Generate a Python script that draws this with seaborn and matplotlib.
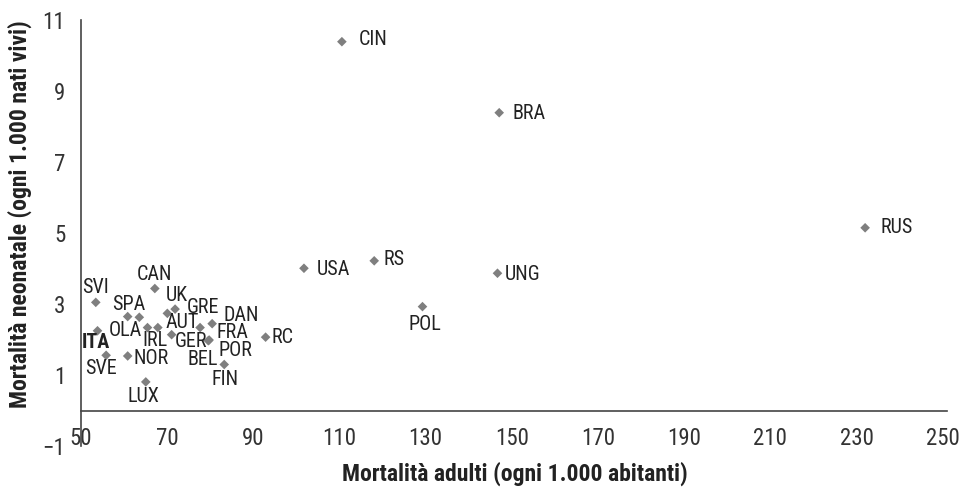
import pandas as pd
import seaborn as sns
import matplotlib.pyplot as plt

# Paesi (sigle) e valori
paesi = ['CIN', 'BRA', 'RUS', 'USA', 'RS', 'UNG', 'POL', 'RC',
         'SVI', 'CAN', 'SPA', 'OLA', 'UK', 'GRE', 'ITA', 'IRL', 'AUT',
         'GER', 'FRA', 'DAN', 'BEL', 'POR', 'FIN', 'SVE', 'NOR', 'LUX']
mort_adulti = [110.6, 147.1, 232.0, 101.8, 118.1, 146.7, 129.3, 92.9,
               53.5, 67.2, 60.9, 63.6, 70.1, 71.9, 53.9, 65.5, 67.9,
               71.1, 77.7, 80.5, 79.6, 79.8, 83.3, 55.9, 60.9, 65.1]
mort_neonatale = [10.39, 8.39, 5.15, 4.01, 4.22, 3.87, 2.93, 2.07,
                  3.05, 3.44, 2.65, 2.63, 2.74, 2.86, 2.25, 2.34, 2.34,
                  2.14, 2.34, 2.45, 1.97, 1.99, 1.30, 1.56, 1.54, 0.81]

# posizione delle etichette rispetto al punto (pixel)
offset_etichette = {
    'CIN': (31, 2), 'BRA': (30, -1), 'RUS': (32, 0), 'USA': (29, -1),
    'RS': (20, 1), 'UNG': (25, -1), 'POL': (2, -18), 'RC': (17, 0),
    'SVI': (0, 15), 'CAN': (0, 14), 'SPA': (1, 12), 'OLA': (-14, -13),
    'UK': (9, 18), 'GRE': (28, 2), 'ITA': (-2, -12), 'IRL': (7, -13),
    'AUT': (24, 5), 'GER': (19, -7), 'FRA': (32, -5), 'DAN': (29, 8),
    'BEL': (-6, -19), 'POR': (26, -10), 'FIN': (1, -15), 'SVE': (-5, -13),
    'NOR': (23, -3), 'LUX': (-2, -15),
}

df = pd.DataFrame({'paese': paesi, 'adulti': mort_adulti,
                   'neonatale': mort_neonatale})

sns.set_style('white')
plt.rcParams['font.family'] = ['Roboto Condensed', 'DejaVu Sans']
plt.rcParams['axes.unicode_minus'] = True

fig = plt.figure(figsize=(9.63, 4.92), dpi=100)
ax = fig.add_axes([0.0838, 0.0931, 0.8996, 0.8662])

sns.scatterplot(data=df, x='adulti', y='neonatale', marker='D', s=24,
                color='#7f7f7f', edgecolor='none', ax=ax)

for _, r in df.iterrows():
    dx, dy = offset_etichette[r['paese']]
    ax.annotate(r['paese'], (r['adulti'], r['neonatale']),
                xytext=(dx, dy), textcoords='offset pixels',
                ha='center', va='center', fontsize=14.5, color='#222222',
                fontweight='bold' if r['paese'] == 'ITA' else 'normal')

ax.set_xlim(50, 251)
ax.set_ylim(-1, 11)
ax.set_xticks(range(50, 251, 20))
ax.set_yticks(range(-1, 12, 2))

for s in ['top', 'right']:
    ax.spines[s].set_visible(False)
ax.spines['bottom'].set_position(('data', 0))
ax.spines['bottom'].set_color('#444444')
ax.spines['left'].set_color('#444444')
ax.spines['bottom'].set_linewidth(1.2)
ax.spines['left'].set_linewidth(1.2)

ax.tick_params(axis='x', length=0, pad=12, labelsize=16.5, labelcolor='#333333')
ax.tick_params(axis='y', length=0, pad=11, labelsize=16.5, labelcolor='#333333')

ax.set_xlabel('Mortalità adulti (ogni 1.000 abitanti)', fontsize=17,
              fontweight='bold', color='#222222')
ax.set_ylabel('Mortalità neonatale (ogni 1.000 nati vivi)', fontsize=17,
              fontweight='bold', color='#222222')
ax.xaxis.set_label_coords(0.501, -0.035)
ax.yaxis.set_label_coords(-0.056, 0.544)

plt.savefig('out.png', dpi=100)
